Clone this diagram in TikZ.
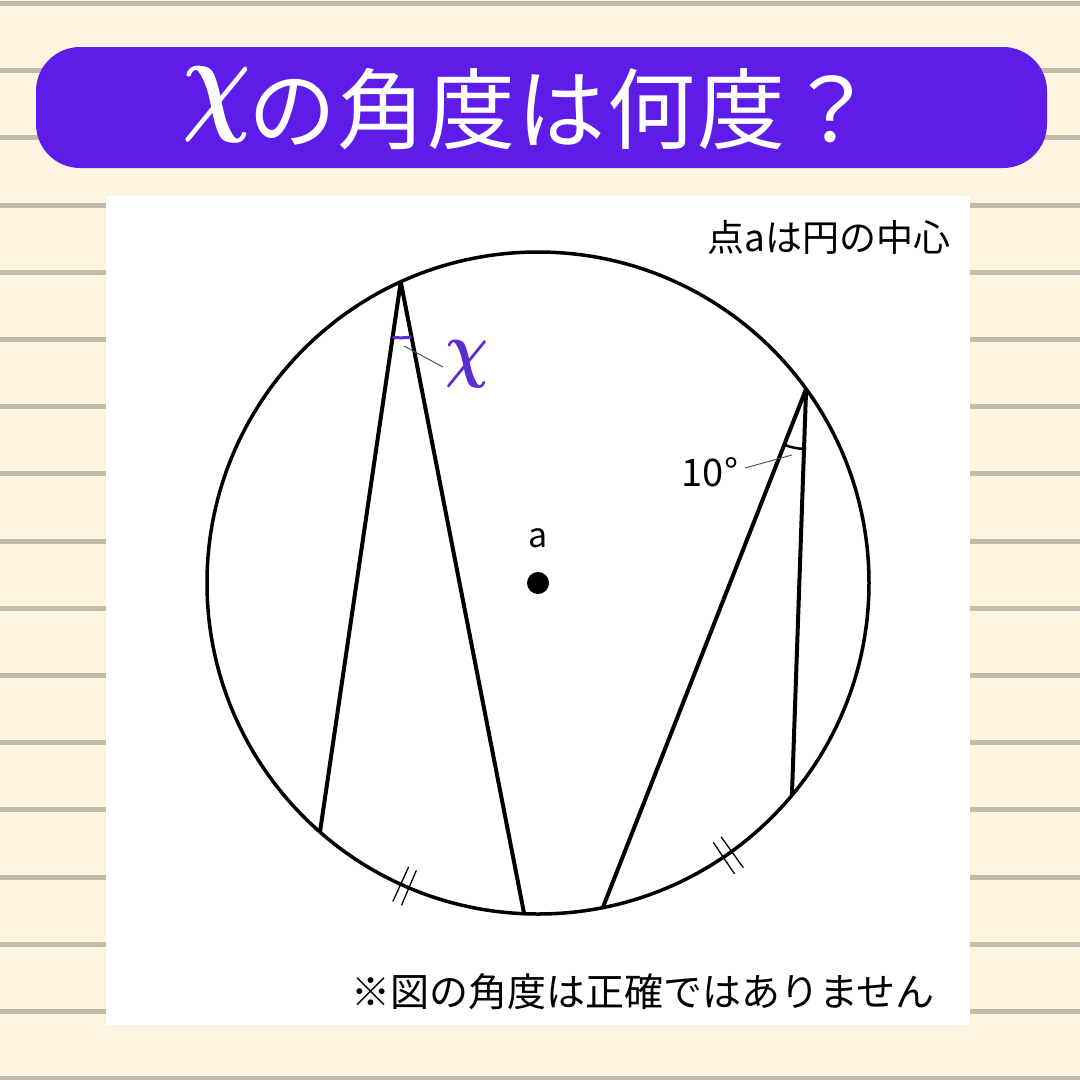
\documentclass[tikz,border=0pt]{standalone}
\usepackage{fontspec}
\setmainfont{Noto Sans CJK JP}
\usetikzlibrary{calc,angles}
\definecolor{cream}{RGB}{253,245,225}
\definecolor{stripe}{RGB}{196,188,170}
\definecolor{banner}{RGB}{94,28,232}
\definecolor{xlab}{RGB}{92,44,210}
\definecolor{ptr}{RGB}{85,85,85}
\newcommand{\bigchi}[2]{\scalebox{#1}[#2]{\fontsize{10}{12}\selectfont\boldmath$\chi$}}
\tikzset{
  chord/.style={line width=4pt},
  rim/.style={line width=3.5pt},
  tick/.style={line width=1.3pt},
  pointer/.style={ptr, line width=1pt},
  fs/.style={font=\fontsize{#1}{#1}\selectfont}
}
\begin{document}
\begin{tikzpicture}[x=1pt,y=-1pt]
\useasboundingbox (0,0) rectangle (1080,1080);
\fill[cream] (0,0) rectangle (1080,1080);
\foreach \k in {0,...,16} {
  \fill[stripe] (0,{1+67.2*\k}) rectangle (1080,{6+67.2*\k});
}
\fill[banner, rounded corners=44pt] (36,47) rectangle (1047,168);
\fill[white] (106,196) rectangle (970,1025);

% title
\node[anchor=base, text=white, inner sep=0pt, fs=88] (title) at (532,142)
  {\makebox[60pt]{\raisebox{23pt}{\bigchi{9.6}{11.8}}}\makebox[90pt]{の}\makebox[90pt]{角}\makebox[90pt]{度}\makebox[90pt]{は}\makebox[90pt]{何}\makebox[90pt]{度}\makebox[90pt]{？}};

% circle
\coordinate (O) at (538,583);
\draw[rim] (O) circle[radius=331pt];
\fill (O) circle[radius=11pt];

\coordinate (A) at ($(O)+(-114.5:331)$);
\coordinate (B) at ($(O)+(131.2:331)$);
\coordinate (C) at ($(O)+(92.4:331)$);
\coordinate (D) at ($(O)+(78.7:331)$);
\coordinate (E) at ($(O)+(-35.9:331)$);
\coordinate (F) at ($(O)+(39.9:331)$);

\draw[chord] (A) -- (B);
\draw[chord] (A) -- (C);
\draw[chord] (E) -- (D);
\draw[chord] (E) -- (F);

% angle marks
\pic[draw=xlab, line width=3pt, angle radius=56pt] {angle=B--A--C};
\pic[draw=black, line width=2.5pt, angle radius=60pt] {angle=D--E--F};

% equal arc ticks
\coordinate (t1a) at ($(O)+(114.5:312)$); \coordinate (t1b) at ($(O)+(114.5:350)$);
\coordinate (t2a) at ($(O)+(112.95:312)$); \coordinate (t2b) at ($(O)+(112.95:350)$);
\coordinate (t3a) at ($(O)+(55.95:313)$); \coordinate (t3b) at ($(O)+(55.95:351)$);
\coordinate (t4a) at ($(O)+(54.2:313)$); \coordinate (t4b) at ($(O)+(54.2:351)$);
\draw[tick] (t1a) -- (t1b);
\draw[tick] (t2a) -- (t2b);
\draw[tick] (t3a) -- (t3b);
\draw[tick] (t4a) -- (t4b);

% labels
\node[anchor=base, inner sep=0pt, text=xlab] (xl) at (467,373) {\bigchi{6.0}{7.4}};
\coordinate (px1) at (404,346); \coordinate (px2) at (443,367);
\draw[pointer] (px1) -- (px2);

\node[anchor=base, inner sep=0pt, fs=38] (ten) at (710,486) {10°};
\coordinate (pt1) at (745,468); \coordinate (pt2) at (792,455);
\draw[pointer] (pt1) -- (pt2);

\node[anchor=base, inner sep=0pt, fs=34] (alab) at (538,547) {a};

\node[anchor=base east, inner sep=0pt, fs=37] (note1) at (951,251) {点aは円の中心};
\node[anchor=base, inner sep=0pt, fs=39] (note2) at (643,1006) {※図の角度は正確ではありません};
\end{tikzpicture}
\end{document}
